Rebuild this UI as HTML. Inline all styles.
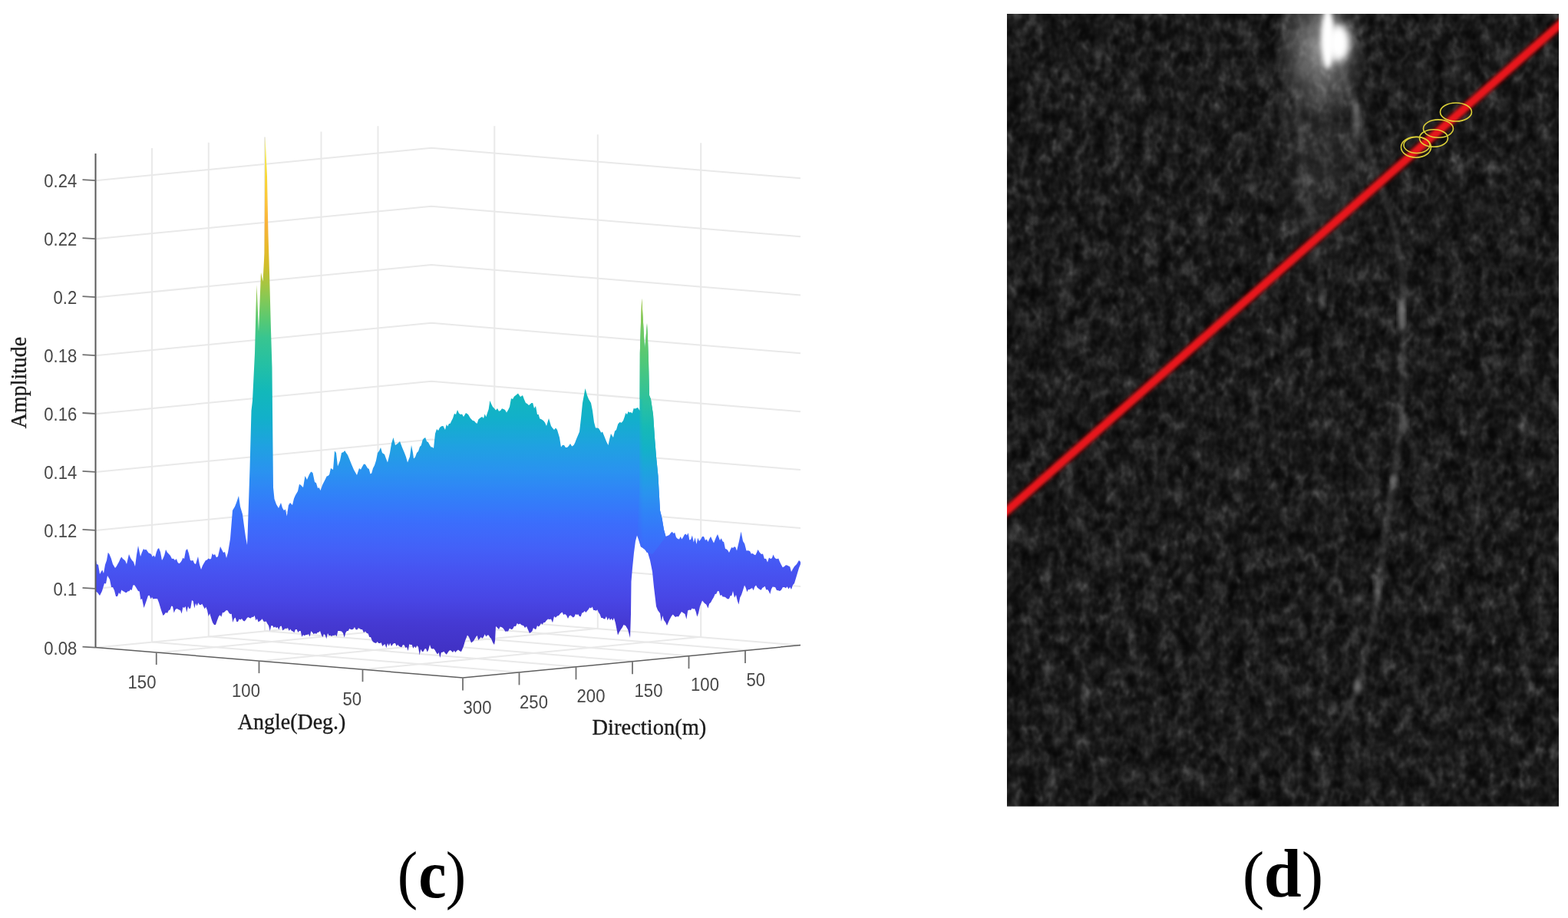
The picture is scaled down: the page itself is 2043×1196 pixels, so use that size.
<!DOCTYPE html>
<html><head><meta charset="utf-8"><title>Figure (c) (d)</title>
<style>
html,body{margin:0;padding:0;background:#fff;overflow:hidden;}
body{width:2043px;height:1196px;overflow:hidden;position:relative;}
svg{position:absolute;left:0;top:0;display:block;}
.tick text{font-family:"Liberation Sans",sans-serif;font-size:23.5px;fill:#474747;}
.ax text{font-family:"Liberation Serif",serif;font-size:29.3px;fill:#1c1c1c;stroke:#1c1c1c;stroke-width:0.35px;}
.cap text{font-family:"Liberation Serif",serif;font-size:88px;fill:#000;}
</style></head><body>
<svg width="2043" height="1196" viewBox="0 0 2043 1196">
<defs>
<linearGradient id="parc" gradientUnits="userSpaceOnUse" x1="0" y1="385" x2="0" y2="725"><stop offset="0.0000" stop-color="#b4c43a"/><stop offset="0.0588" stop-color="#96c74c"/><stop offset="0.1324" stop-color="#72c962"/><stop offset="0.2500" stop-color="#50c878"/><stop offset="0.4206" stop-color="#28c0a2"/><stop offset="0.5059" stop-color="#16b9b6"/><stop offset="0.5882" stop-color="#13b1c8"/><stop offset="0.6735" stop-color="#1ea3de"/><stop offset="0.7559" stop-color="#2994ee"/><stop offset="0.8382" stop-color="#3082f7"/><stop offset="0.9235" stop-color="#3872fb"/><stop offset="1.0000" stop-color="#3f66fa"/></linearGradient>
<linearGradient id="colfade" gradientUnits="userSpaceOnUse" x1="829" y1="0" x2="838" y2="0"><stop offset="0" stop-color="#fff" stop-opacity="0"/><stop offset="1" stop-color="#fff" stop-opacity="1"/></linearGradient>
<mask id="colmask" maskUnits="userSpaceOnUse" x="820" y="380" width="60" height="360"><rect x="820" y="380" width="60" height="140" fill="#fff"/><rect x="820" y="520" width="60" height="220" fill="url(#colfade)"/></mask>
<linearGradient id="par" gradientUnits="userSpaceOnUse" x1="0" y1="178" x2="0" y2="853"><stop offset="0.0000" stop-color="#f7ee3c"/><stop offset="0.0400" stop-color="#f5e53a"/><stop offset="0.0741" stop-color="#f8d833"/><stop offset="0.1274" stop-color="#fcc43c"/><stop offset="0.1689" stop-color="#f8b23a"/><stop offset="0.2133" stop-color="#e8b92a"/><stop offset="0.2489" stop-color="#d0bd2a"/><stop offset="0.2830" stop-color="#a8c540"/><stop offset="0.3170" stop-color="#80c958"/><stop offset="0.3526" stop-color="#58c972"/><stop offset="0.3881" stop-color="#38c590"/><stop offset="0.4400" stop-color="#24c0a4"/><stop offset="0.4919" stop-color="#12b8ba"/><stop offset="0.5437" stop-color="#12b0ca"/><stop offset="0.5956" stop-color="#1fa2e0"/><stop offset="0.6474" stop-color="#2a92f0"/><stop offset="0.6919" stop-color="#3181f8"/><stop offset="0.7422" stop-color="#3b6efc"/><stop offset="0.7926" stop-color="#4361f8"/><stop offset="0.8430" stop-color="#4752f0"/><stop offset="0.8963" stop-color="#4845e4"/><stop offset="0.9407" stop-color="#4539d2"/><stop offset="1.0000" stop-color="#4030c2"/></linearGradient>
<filter id="noise" x="0" y="0" width="100%" height="100%" color-interpolation-filters="sRGB">
<feTurbulence type="fractalNoise" baseFrequency="0.045 0.035" numOctaves="2" seed="3" result="n1"/>
<feTurbulence type="fractalNoise" baseFrequency="0.1 0.075" numOctaves="2" seed="8" result="n2"/>
<feComposite in="n1" in2="n2" operator="arithmetic" k1="0" k2="0.5" k3="0.5" k4="0"/>
<feColorMatrix type="matrix" values="1 0 0 0 0  1 0 0 0 0  1 0 0 0 0  0 0 0 0 1"/>
<feComponentTransfer><feFuncR type="gamma" amplitude="0.5" exponent="2.5" offset="0.02"/><feFuncG type="gamma" amplitude="0.5" exponent="2.5" offset="0.02"/><feFuncB type="gamma" amplitude="0.5" exponent="2.5" offset="0.02"/></feComponentTransfer>
</filter>
<filter id="b3" x="-50%" y="-50%" width="200%" height="200%"><feGaussianBlur stdDeviation="3"/></filter>
<filter id="b5" x="-50%" y="-50%" width="200%" height="200%"><feGaussianBlur stdDeviation="5"/></filter>
<filter id="b8" x="-50%" y="-50%" width="200%" height="200%"><feGaussianBlur stdDeviation="9"/></filter>
<filter id="b2" x="-50%" y="-50%" width="200%" height="200%"><feGaussianBlur stdDeviation="2.2"/></filter>
<filter id="b1" x="-50%" y="-50%" width="200%" height="200%"><feGaussianBlur stdDeviation="1.6"/></filter>
<radialGradient id="gl1"><stop offset="0" stop-color="#fff" stop-opacity="0.5"/><stop offset="0.5" stop-color="#fff" stop-opacity="0.22"/><stop offset="1" stop-color="#fff" stop-opacity="0"/></radialGradient>
<radialGradient id="gl2"><stop offset="0" stop-color="#fff" stop-opacity="0.10"/><stop offset="0.6" stop-color="#fff" stop-opacity="0.05"/><stop offset="1" stop-color="#fff" stop-opacity="0"/></radialGradient>
<clipPath id="sc"><rect x="1312" y="18" width="719" height="1032.5"/></clipPath>
</defs>
<rect width="2043" height="1196" fill="#fff"/>
<g fill="none" stroke="#e9e9e9" stroke-width="2"><path d="M124.5,235.3 L562,192.8 L1043,232.3"/><path d="M124.5,311.3 L562,268.8 L1043,308.3"/><path d="M124.5,387.40000000000003 L562,344.90000000000003 L1043,384.40000000000003"/><path d="M124.5,463.3 L562,420.8 L1043,460.3"/><path d="M124.5,539.1999999999999 L562,496.7 L1043,536.1999999999999"/><path d="M124.5,615.0999999999999 L562,572.5999999999999 L1043,612.0999999999999"/><path d="M124.5,691.0 L562,648.5 L1043,688.0"/><path d="M124.5,767.0 L562,724.5 L1043,764.0"/><path d="M124.5,843.8 L562,801.3 L1043,840.8"/><path d="M198,192.9 L198,836.4"/><path d="M271.75,185.7 L271.75,829.2"/><path d="M345,178.6 L345,822.1"/><path d="M418.5,171.4 L418.5,814.9"/><path d="M492.5,164.3 L492.5,807.8"/><path d="M644.3,164.3 L644.3,807.8"/><path d="M778.8,175.3 L778.8,818.8"/><path d="M913.2,186.3 L913.2,829.8"/><path d="M198.0,836.4 L676.9,875.9"/><path d="M271.8,829.2 L751.1,868.7"/><path d="M345.0,822.1 L824.8,861.6"/><path d="M418.5,814.9 L898.7,854.4"/><path d="M492.5,807.8 L973.1,847.3"/><path d="M644.3,807.8 L206.4,850.3"/><path d="M778.8,818.8 L340.2,861.3"/><path d="M913.2,829.8 L473.9,872.3"/></g>
<path d="M124.0,724.0 L126.0,735.0 L128.0,735.8 L130.0,748.0 L131.7,745.1 L133.3,742.5 L135.0,747.0 L137.0,735.7 L139.0,730.0 L140.8,719.7 L142.5,722.0 L144.8,727.6 L147.0,735.0 L150.0,740.0 L151.7,738.1 L153.3,735.1 L155.0,732.0 L156.7,728.1 L158.3,725.6 L160.0,728.0 L161.7,729.2 L163.3,730.8 L165.0,735.0 L168.0,722.0 L170.0,726.8 L172.0,730.0 L174.0,732.0 L176.0,738.0 L178.0,722.7 L180.0,711.0 L183.0,725.0 L185.0,719.6 L187.0,715.0 L188.7,716.5 L190.3,715.8 L192.0,718.0 L193.7,720.5 L195.3,721.1 L197.0,722.0 L198.7,725.6 L200.3,723.4 L202.0,726.0 L203.7,719.7 L205.3,715.6 L207.0,714.0 L209.0,719.2 L211.0,730.0 L212.7,726.9 L214.3,722.9 L216.0,716.0 L218.0,719.8 L220.0,721.8 L222.0,724.0 L224.0,728.0 L226.0,727.8 L228.0,730.0 L229.8,728.1 L231.5,732.4 L233.2,734.2 L235.0,733.0 L236.7,730.6 L238.3,726.8 L240.0,728.0 L242.0,717.3 L244.0,715.0 L246.0,721.1 L248.0,730.0 L249.8,730.6 L251.5,730.0 L253.2,734.0 L255.0,735.0 L258.0,725.0 L260.0,735.4 L262.0,742.0 L264.0,736.7 L266.0,733.2 L268.0,730.0 L269.8,729.5 L271.5,727.4 L273.2,728.4 L275.0,728.0 L276.7,720.9 L278.3,723.2 L280.0,722.0 L282.0,726.2 L284.0,725.0 L287.0,712.0 L289.0,716.1 L291.0,720.0 L293.0,719.0 L295.0,727.0 L297.0,720.0 L300.0,702.0 L303.0,665.0 L306.0,660.0 L308.0,655.0 L311.0,646.0 L313.0,660.0 L316.0,670.0 L318.0,685.0 L320.0,699.2 L322.0,710.0 L322.5,700.0 L325.5,610.0 L327.5,535.0 L329.0,522.0 L332.0,460.0 L333.5,400.0 L334.5,371.0 L337.0,432.0 L340.0,355.0 L342.5,367.0 L344.5,330.0 L345.5,178.0 L348.0,230.0 L349.5,305.0 L351.0,355.0 L353.0,430.0 L354.5,479.0 L355.0,535.0 L356.0,635.0 L357.5,650.0 L360.0,657.0 L363.0,662.0 L366.0,655.0 L368.0,661.8 L370.0,665.0 L371.9,663.6 L373.8,672.5 L375.9,658.3 L378.0,655.0 L381.0,658.0 L383.0,649.5 L385.0,645.0 L388.0,640.0 L390.0,630.7 L392.0,632.0 L395.0,635.0 L397.5,620.0 L400.0,625.0 L403.0,618.0 L405.2,614.6 L407.5,616.0 L410.0,628.0 L412.0,629.2 L414.0,636.0 L415.8,635.2 L417.5,639.0 L420.0,632.0 L422.0,628.0 L423.8,624.4 L425.7,620.4 L427.5,620.0 L429.2,618.0 L431.0,610.0 L434.0,612.0 L436.0,587.5 L438.0,590.0 L440.0,607.5 L443.0,600.0 L445.0,590.0 L447.5,589.0 L449.2,587.0 L451.0,590.0 L453.0,592.8 L455.0,597.5 L458.0,605.0 L461.0,612.0 L463.0,615.4 L465.0,619.0 L468.0,610.0 L470.0,611.7 L472.0,608.0 L474.0,604.4 L476.0,605.0 L479.0,610.0 L480.8,610.9 L482.5,617.5 L484.2,616.6 L486.0,610.0 L488.0,606.2 L490.0,600.0 L492.0,590.0 L494.0,587.5 L496.0,582.9 L498.0,590.0 L501.0,592.0 L503.0,597.4 L505.0,602.5 L508.0,590.0 L510.0,578.0 L512.5,570.0 L515.0,580.0 L518.0,578.0 L521.0,575.0 L524.0,583.0 L527.0,590.0 L529.0,595.2 L531.0,602.5 L534.0,595.0 L536.0,580.0 L538.0,590.0 L539.0,597.5 L541.0,595.6 L543.0,590.0 L545.0,588.1 L547.0,582.0 L548.8,580.2 L550.7,573.0 L552.5,571.0 L554.2,570.0 L556.0,575.0 L558.0,576.2 L560.0,580.0 L561.7,582.5 L563.3,582.4 L565.0,584.0 L567.0,565.0 L569.0,559.0 L571.0,560.9 L573.0,557.0 L575.2,555.2 L577.5,555.0 L580.0,560.0 L581.7,552.9 L583.3,555.4 L585.0,552.0 L586.7,551.7 L588.3,548.3 L590.0,545.0 L592.0,538.8 L594.0,540.1 L596.0,534.0 L598.0,538.5 L600.0,540.0 L602.0,539.6 L604.0,543.0 L607.0,538.0 L610.0,540.0 L613.0,545.0 L616.0,548.0 L618.0,548.5 L620.0,551.0 L621.7,551.8 L623.3,546.4 L625.0,545.0 L626.7,543.8 L628.3,542.9 L630.0,545.0 L631.7,539.2 L633.3,543.2 L635.0,538.0 L636.7,533.1 L638.3,521.9 L640.0,526.0 L642.0,529.9 L644.0,532.0 L646.0,534.6 L648.0,532.0 L650.0,535.7 L652.0,535.0 L654.0,532.3 L656.0,533.0 L658.0,534.0 L660.0,537.5 L662.0,534.3 L664.0,530.0 L666.0,518.9 L668.0,520.0 L670.0,516.6 L672.0,515.0 L675.0,512.5 L678.0,517.0 L681.0,515.0 L683.0,520.5 L685.0,525.0 L687.0,526.0 L689.0,528.0 L690.8,526.5 L692.5,525.0 L694.2,524.9 L696.0,532.0 L698.0,528.9 L700.0,540.0 L701.7,540.0 L703.3,545.4 L705.0,546.0 L708.0,548.0 L710.0,550.5 L712.0,555.0 L715.0,545.0 L718.0,555.0 L720.0,557.8 L722.0,560.0 L724.0,557.6 L726.0,560.0 L729.0,570.0 L731.0,582.5 L733.0,579.7 L735.0,580.0 L737.0,583.1 L739.0,583.0 L741.0,580.9 L743.0,578.0 L745.2,581.5 L747.5,580.0 L749.2,576.7 L751.0,572.0 L753.0,567.3 L755.0,562.5 L757.0,545.0 L759.0,525.0 L760.8,515.2 L762.5,506.0 L765.0,515.0 L767.0,520.0 L770.0,525.0 L772.0,535.0 L774.0,550.0 L776.0,557.5 L778.0,557.6 L780.0,558.0 L781.7,560.7 L783.3,563.7 L785.0,562.5 L788.0,570.0 L790.2,575.4 L792.5,580.0 L794.2,572.1 L796.0,565.0 L799.0,570.0 L801.0,561.7 L803.0,560.0 L805.2,552.4 L807.5,550.0 L809.8,550.7 L812.0,548.0 L813.7,543.3 L815.3,538.1 L817.0,540.0 L818.7,536.0 L820.3,537.4 L822.0,537.0 L823.8,538.4 L825.7,532.0 L827.5,532.5 L829.2,531.8 L831.0,531.0 L833.5,535.0 L833.8,460.0 L835.0,420.0 L836.2,388.8 L838.0,420.0 L840.0,455.0 L841.5,440.0 L843.0,421.0 L844.0,440.0 L845.0,470.0 L846.0,515.0 L848.0,520.0 L851.0,540.0 L853.0,570.0 L855.0,595.0 L857.5,620.0 L860.0,665.0 L862.5,675.0 L865.0,690.0 L867.5,699.0 L872.0,697.0 L873.8,694.5 L875.7,692.8 L877.5,695.0 L879.2,693.8 L881.0,700.0 L883.0,702.0 L885.0,702.5 L886.7,699.1 L888.3,702.6 L890.0,700.0 L891.7,696.8 L893.3,695.6 L895.0,697.5 L896.7,694.3 L898.3,703.6 L900.0,703.0 L901.9,697.4 L903.8,706.4 L905.6,700.3 L907.5,709.0 L909.2,700.8 L911.0,705.0 L913.0,702.8 L915.0,699.0 L917.0,699.0 L919.0,704.0 L920.8,702.4 L922.5,706.0 L924.2,702.2 L926.0,699.0 L928.0,703.6 L930.0,707.5 L933.0,700.0 L935.0,696.0 L938.0,704.0 L939.8,701.2 L941.5,705.3 L943.2,706.3 L945.0,715.0 L946.7,715.5 L948.3,717.1 L950.0,720.0 L951.7,716.1 L953.3,713.1 L955.0,714.0 L956.7,712.3 L958.3,712.7 L960.0,717.5 L963.0,705.0 L965.5,692.5 L968.0,705.0 L970.2,708.6 L972.5,717.5 L974.8,717.3 L977.0,718.0 L978.8,721.5 L980.7,721.0 L982.5,722.5 L984.2,723.2 L985.8,720.2 L987.5,716.0 L989.8,719.8 L992.0,722.0 L994.0,721.6 L996.0,728.0 L998.0,727.7 L1000.0,732.5 L1002.0,726.4 L1004.0,728.0 L1005.8,727.3 L1007.5,722.5 L1009.2,726.3 L1011.0,728.0 L1012.6,728.2 L1014.2,727.5 L1015.9,731.8 L1017.5,735.0 L1019.8,739.3 L1022.0,738.0 L1023.8,736.3 L1025.7,736.5 L1027.5,737.5 L1029.2,738.3 L1031.0,745.0 L1033.0,741.3 L1035.0,738.0 L1038.0,735.0 L1041.0,730.0 L1043.0,732.0 L1043.0,735.0 L1041.0,740.0 L1038.0,750.0 L1035.0,760.0 L1033.0,762.2 L1031.0,768.0 L1029.2,764.8 L1027.5,767.5 L1025.7,764.2 L1023.8,766.3 L1022.0,765.0 L1020.0,765.1 L1018.0,768.5 L1016.0,770.0 L1014.0,769.3 L1012.0,768.9 L1010.0,765.0 L1008.3,764.8 L1006.7,764.6 L1005.0,767.5 L1003.3,773.9 L1001.7,770.2 L1000.0,768.0 L998.3,768.4 L996.7,763.8 L995.0,765.0 L993.3,766.0 L991.7,768.8 L990.0,768.0 L988.3,766.7 L986.7,765.4 L985.0,762.5 L983.3,764.6 L981.7,769.3 L980.0,766.0 L978.3,767.0 L976.7,768.1 L975.0,768.0 L973.3,771.3 L971.7,765.8 L970.0,762.5 L968.0,769.0 L966.0,775.0 L964.2,778.6 L962.5,787.5 L960.8,782.8 L959.0,775.0 L957.0,778.8 L955.0,770.0 L953.3,776.2 L951.7,776.0 L950.0,780.0 L948.3,780.4 L946.7,779.4 L945.0,778.0 L943.3,777.5 L941.7,777.5 L940.0,775.0 L938.3,776.0 L936.7,770.3 L935.0,770.0 L933.3,773.8 L931.7,774.1 L930.0,778.0 L928.0,781.3 L926.0,785.0 L924.2,786.5 L922.5,792.5 L920.2,787.4 L918.0,786.0 L915.0,782.5 L912.0,790.0 L910.0,799.0 L908.3,803.5 L906.7,796.9 L905.0,793.0 L903.3,793.4 L901.7,792.6 L900.0,795.0 L898.1,794.5 L896.2,795.4 L894.4,806.7 L892.5,800.0 L890.2,798.6 L888.0,797.0 L886.0,800.2 L884.0,803.4 L882.0,803.0 L880.2,804.0 L878.5,802.5 L876.8,800.5 L875.0,802.5 L872.0,808.0 L869.0,815.0 L867.0,810.4 L865.0,808.0 L863.3,802.0 L861.7,809.7 L860.0,799.0 L857.0,795.0 L855.0,790.0 L852.0,765.0 L850.0,745.0 L847.0,730.0 L844.0,720.0 L842.3,719.6 L840.7,715.4 L839.0,715.0 L837.0,713.1 L835.0,712.5 L832.0,703.0 L830.0,697.5 L828.0,705.0 L826.0,720.0 L824.0,740.0 L822.5,757.5 L822.0,800.0 L821.0,831.0 L818.0,820.0 L815.0,815.0 L812.5,814.0 L810.8,817.5 L809.0,820.0 L807.0,823.3 L805.0,827.5 L802.0,812.0 L800.0,805.0 L798.3,808.6 L796.7,805.7 L795.0,808.0 L793.3,804.8 L791.7,808.2 L790.0,803.0 L788.3,806.4 L786.7,806.2 L785.0,805.0 L783.3,805.1 L781.7,800.6 L780.0,798.0 L778.3,794.3 L776.7,795.7 L775.0,795.0 L773.3,795.0 L771.7,790.6 L770.0,792.5 L768.3,791.4 L766.7,793.9 L765.0,796.0 L763.3,798.1 L761.7,795.9 L760.0,798.0 L758.3,798.5 L756.7,803.3 L755.0,803.0 L753.3,800.2 L751.7,801.0 L750.0,800.0 L748.3,803.4 L746.7,804.5 L745.0,803.0 L743.3,801.5 L741.7,802.5 L740.0,806.0 L738.0,801.6 L736.0,800.0 L734.2,801.1 L732.5,797.5 L730.2,799.2 L728.0,802.0 L726.0,802.5 L724.0,804.8 L722.0,803.0 L720.0,811.2 L718.0,806.4 L716.0,807.0 L714.0,806.6 L712.0,808.2 L710.0,811.0 L708.3,811.0 L706.7,813.8 L705.0,812.0 L703.3,815.0 L701.7,816.4 L700.0,815.0 L698.3,820.1 L696.7,819.6 L695.0,818.0 L693.3,822.5 L691.7,823.8 L690.0,825.0 L688.0,820.6 L686.0,816.0 L684.0,818.1 L682.0,815.0 L679.8,814.6 L677.5,812.5 L675.7,813.4 L673.8,812.1 L672.0,816.0 L670.0,815.7 L668.0,819.5 L666.0,820.0 L664.0,818.6 L662.0,822.5 L660.0,822.5 L658.3,822.8 L656.7,820.0 L655.0,818.0 L653.3,817.0 L651.7,816.4 L650.0,820.0 L648.0,817.8 L646.0,816.0 L645.0,835.0 L644.0,840.0 L642.0,836.9 L640.0,832.0 L638.3,830.4 L636.7,827.5 L635.0,827.5 L633.3,829.6 L631.7,826.3 L630.0,830.0 L628.3,831.7 L626.7,829.9 L625.0,832.0 L623.3,833.9 L621.7,827.9 L620.0,830.0 L617.0,835.0 L614.0,837.5 L611.0,830.0 L609.0,827.5 L606.0,835.0 L604.0,842.0 L601.0,849.0 L599.0,848.2 L597.0,846.5 L595.0,848.0 L593.3,850.1 L591.7,847.6 L590.0,850.0 L588.3,848.2 L586.7,847.1 L585.0,848.0 L583.3,850.6 L581.7,852.7 L580.0,851.0 L578.3,848.8 L576.7,849.8 L575.0,850.0 L573.3,857.1 L571.7,849.9 L570.0,852.5 L568.3,850.1 L566.7,846.9 L565.0,845.0 L563.3,845.6 L561.7,844.7 L560.0,840.0 L558.3,846.4 L556.7,849.5 L555.0,845.0 L553.3,845.6 L551.7,848.7 L550.0,849.0 L548.3,845.7 L546.7,853.6 L545.0,843.0 L543.3,840.9 L541.7,844.3 L540.0,842.0 L538.3,844.8 L536.7,839.9 L535.0,840.0 L533.3,839.2 L531.7,848.0 L530.0,843.0 L528.3,843.9 L526.7,840.5 L525.0,840.0 L523.3,843.2 L521.7,842.8 L520.0,842.0 L518.3,839.7 L516.7,842.1 L515.0,838.0 L513.3,837.9 L511.7,839.6 L510.0,842.0 L508.3,837.7 L506.7,841.8 L505.0,838.0 L503.3,844.3 L501.7,839.2 L500.0,840.0 L498.3,842.1 L496.7,837.2 L495.0,838.0 L493.3,838.0 L491.7,836.1 L490.0,838.0 L487.0,837.0 L485.0,834.9 L483.0,830.0 L481.3,830.0 L479.7,825.6 L478.0,825.0 L476.0,822.5 L474.0,824.2 L472.0,820.0 L470.3,820.0 L468.7,819.0 L467.0,818.0 L465.3,820.5 L463.7,820.3 L462.0,817.0 L460.3,819.5 L458.7,820.3 L457.0,820.0 L455.3,819.1 L453.7,822.1 L452.0,822.0 L450.3,824.5 L448.7,830.4 L447.0,825.0 L445.3,822.8 L443.7,822.2 L442.0,822.0 L440.3,821.9 L438.7,829.3 L437.0,827.0 L435.3,828.1 L433.7,827.7 L432.0,829.0 L430.3,827.7 L428.7,828.2 L427.0,825.0 L425.3,832.2 L423.7,827.6 L422.0,826.0 L420.3,830.3 L418.7,826.9 L417.0,822.0 L415.3,823.8 L413.7,823.9 L412.0,826.0 L410.3,825.0 L408.7,826.3 L407.0,824.0 L405.3,822.3 L403.7,829.5 L402.0,826.0 L400.2,827.1 L398.5,827.1 L396.8,828.3 L395.0,827.0 L393.3,829.7 L391.7,821.9 L390.0,822.0 L388.3,824.0 L386.7,820.0 L385.0,820.0 L383.3,824.2 L381.7,822.5 L380.0,822.0 L378.3,819.4 L376.7,822.1 L375.0,818.0 L373.3,819.1 L371.7,818.8 L370.0,820.0 L368.3,821.6 L366.7,815.5 L365.0,816.0 L363.3,820.5 L361.7,816.9 L360.0,818.0 L358.3,816.4 L356.7,817.8 L355.0,815.0 L353.3,815.3 L351.7,821.9 L350.0,815.0 L348.3,812.6 L346.7,809.5 L345.0,810.0 L343.3,809.5 L341.7,806.3 L340.0,808.0 L338.3,809.2 L336.7,810.6 L335.0,806.0 L333.3,808.2 L331.7,802.0 L330.0,804.0 L328.3,803.7 L326.7,805.4 L325.0,805.0 L323.3,804.0 L321.7,805.3 L320.0,808.0 L318.3,809.4 L316.7,808.4 L315.0,806.0 L313.3,807.4 L311.7,806.4 L310.0,810.0 L308.3,810.0 L306.7,804.6 L305.0,806.0 L303.3,810.9 L301.7,799.7 L300.0,800.0 L298.3,798.6 L296.7,795.5 L295.0,795.0 L293.3,796.5 L291.7,798.0 L290.0,798.0 L288.3,803.8 L286.7,801.3 L285.0,803.0 L283.0,808.2 L281.0,814.0 L279.0,814.0 L277.0,810.9 L275.0,805.0 L273.3,799.2 L271.7,802.9 L270.0,795.0 L268.3,790.8 L266.7,793.3 L265.0,790.0 L263.3,786.7 L261.7,787.9 L260.0,788.0 L258.3,785.2 L256.7,789.6 L255.0,786.0 L253.3,792.5 L251.7,783.3 L250.0,782.0 L248.3,792.3 L246.7,793.3 L245.0,790.0 L243.3,797.8 L241.7,790.0 L240.0,792.0 L238.3,790.9 L236.7,799.6 L235.0,795.0 L233.3,794.4 L231.7,793.5 L230.0,793.0 L228.3,794.6 L226.7,798.5 L225.0,790.0 L223.3,789.4 L221.7,794.2 L220.0,795.0 L218.0,798.7 L216.0,798.0 L214.2,800.5 L212.5,802.0 L210.0,795.0 L207.0,785.0 L205.0,780.1 L203.0,780.0 L201.3,780.1 L199.7,780.5 L198.0,778.0 L196.3,780.3 L194.7,775.8 L193.0,776.0 L190.0,785.0 L187.5,792.0 L185.0,780.0 L183.3,781.3 L181.7,770.6 L180.0,770.0 L177.0,765.0 L175.0,762.0 L173.3,762.5 L171.7,768.9 L170.0,768.0 L168.3,770.3 L166.7,770.3 L165.0,772.0 L163.3,772.0 L161.7,770.7 L160.0,770.0 L158.3,768.5 L156.7,774.3 L155.0,772.0 L153.0,777.1 L151.0,777.0 L149.0,769.3 L147.0,765.0 L145.0,765.0 L143.0,755.0 L140.0,750.0 L138.0,760.6 L136.0,760.0 L133.0,770.0 L130.0,776.0 L127.0,772.0 L124.0,770.0Z" fill="url(#par)"/>
<path d="M833.8,460.0 L835.0,420.0 L836.2,388.8 L838.0,420.0 L840.0,455.0 L841.5,440.0 L843.0,421.0 L844.0,440.0 L845.0,470.0 L846.0,515.0 L848.0,520.0 L851.0,540.0 L853.0,570.0 L855.0,595.0 L857.5,620.0 L860.0,665.0 L862.5,675.0 L865.0,690.0 L867.5,699.0 L858.0,712.0 L850.0,722.0 L844.0,720.0 L839.0,715.0 L835.0,712.5 L832.0,703.0 L830.0,697.5 L831.0,680.0 L833.0,640.0 L833.5,535.0Z" fill="url(#parc)" mask="url(#colmask)"/>
<g fill="none" stroke="#5a5a5a" stroke-width="2"><path d="M124.5,200 L124.5,844.0"/></g>
<g fill="none" stroke="#5e5e5e" stroke-width="1.5"><path d="M124.5,843.5 L603,883 L1043,840.5"/></g>
<g fill="none" stroke="#707070" stroke-width="1.8"><path d="M124.5,235.1 L107.5,234.1"/><path d="M124.5,311.1 L107.5,310.1"/><path d="M124.5,387.20000000000005 L107.5,386.20000000000005"/><path d="M124.5,463.1 L107.5,462.1"/><path d="M124.5,539.0 L107.5,538.0"/><path d="M124.5,614.9 L107.5,613.9"/><path d="M124.5,690.8000000000001 L107.5,689.8000000000001"/><path d="M124.5,766.8000000000001 L107.5,765.8000000000001"/><path d="M124.5,843.6 L107.5,842.6"/><path d="M203.75,850.5 L203.75,866.0"/><path d="M337.5,861.6 L337.5,877.1"/><path d="M472.5,872.7 L472.5,888.2"/><path d="M603,883.5 L603,899.5"/><path d="M676.5,876.4 L676.5,892.4"/><path d="M750.5,869.3 L750.5,885.3"/><path d="M824,862.2 L824,878.2"/><path d="M897.5,855.1 L897.5,871.1"/><path d="M971,848.0 L971,864.0"/></g>
<g class="tick"><text transform="translate(100.2,244.0) scale(0.94,1)" text-anchor="end">0.24</text><text transform="translate(100.2,320.0) scale(0.94,1)" text-anchor="end">0.22</text><text transform="translate(100.2,396.1) scale(0.94,1)" text-anchor="end">0.2</text><text transform="translate(100.2,472.0) scale(0.94,1)" text-anchor="end">0.18</text><text transform="translate(100.2,547.9) scale(0.94,1)" text-anchor="end">0.16</text><text transform="translate(100.2,623.8) scale(0.94,1)" text-anchor="end">0.14</text><text transform="translate(100.2,699.7) scale(0.94,1)" text-anchor="end">0.12</text><text transform="translate(100.2,775.7) scale(0.94,1)" text-anchor="end">0.1</text><text transform="translate(100.2,852.5) scale(0.94,1)" text-anchor="end">0.08</text><text transform="translate(185,896.6) scale(0.94,1)" text-anchor="middle">150</text><text transform="translate(320.5,907.6) scale(0.94,1)" text-anchor="middle">100</text><text transform="translate(458.8,919.1) scale(0.94,1)" text-anchor="middle">50</text><text transform="translate(622,930.3) scale(0.94,1)" text-anchor="middle">300</text><text transform="translate(695.5,922.6) scale(0.94,1)" text-anchor="middle">250</text><text transform="translate(770,915.3) scale(0.94,1)" text-anchor="middle">200</text><text transform="translate(845,907.6) scale(0.94,1)" text-anchor="middle">150</text><text transform="translate(918.5,900.3) scale(0.94,1)" text-anchor="middle">100</text><text transform="translate(984.8,893.6) scale(0.94,1)" text-anchor="middle">50</text></g>
<g class="ax">
<text transform="translate(34,498.5) rotate(-90) scale(0.952,1)" text-anchor="middle">Amplitude</text>
<text transform="translate(380.1,949.6) scale(0.955,1)" text-anchor="middle">Angle(Deg.)</text>
<text transform="translate(845.9,957.2) scale(0.974,1)" text-anchor="middle">Direction(m)</text>
</g>
<g class="cap" text-anchor="middle">
<text transform="translate(563.5,1168.3) scale(0.93,1)"><tspan x="-35.05" style="font-size:85.5px">(</tspan><tspan x="0" dy="0.2" style="font-weight:bold">c</tspan><tspan x="32.90" dy="-0.2" style="font-size:85.5px">)</tspan></text>
<text transform="translate(1671.3,1168.3)"><tspan x="-38.30" style="font-size:85.5px">(</tspan><tspan x="0" dy="-0.3" style="font-weight:bold">d</tspan><tspan x="38.70" dy="0.3" style="font-size:85.5px">)</tspan></text>
</g>
<g clip-path="url(#sc)">
<rect x="1312" y="18" width="719" height="1032.5" fill="#1c1c1c"/>
<rect x="1312" y="18" width="719" height="1032.5" filter="url(#noise)"/>
<g id="feat">
<ellipse cx="1722" cy="180" rx="75" ry="190" fill="url(#gl2)"/>
<ellipse cx="1720" cy="62" rx="62" ry="95" fill="url(#gl1)"/>
<ellipse cx="1730" cy="50" rx="9" ry="40" fill="#fff" filter="url(#b3)"/>
<ellipse cx="1744" cy="56" rx="15" ry="24" fill="#fff" filter="url(#b5)"/>
<path d="M1742,72 C1760,120 1778,180 1809,271 C1822,310 1830,361 1829,415 C1828,470 1828,500 1825,542 C1822,580 1818,610 1814,632 C1808,680 1800,730 1796,768 C1790,810 1778,860 1769,894 C1760,920 1745,940 1733,958" fill="none" stroke="#e6e6e6" stroke-width="5" stroke-linecap="round" opacity="0.2" filter="url(#b3)"/>
<path d="M1688,117 C1694,170 1700,220 1706,260 C1712,300 1718,350 1723,398" fill="none" stroke="#e6e6e6" stroke-width="5" stroke-linecap="round" opacity="0.13" filter="url(#b3)"/>
<ellipse cx="1767" cy="158" rx="4" ry="24" fill="#ddd" opacity="0.3" filter="url(#b3)"/>
<ellipse cx="1723" cy="390" rx="3" ry="14" fill="#ddd" opacity="0.25" filter="url(#b3)"/>
<ellipse cx="1826" cy="410" rx="3.5" ry="22" fill="#eee" opacity="0.5" filter="url(#b3)"/>
<ellipse cx="1830" cy="552" rx="3.5" ry="12" fill="#eee" opacity="0.35" filter="url(#b3)"/>
<ellipse cx="1817" cy="626" rx="3.5" ry="9" fill="#eee" opacity="0.35" filter="url(#b3)"/>
<ellipse cx="1795" cy="765" rx="3.5" ry="14" fill="#eee" opacity="0.25" filter="url(#b3)"/>
<ellipse cx="1769" cy="894" rx="5" ry="8" fill="#eee" opacity="0.4" filter="url(#b3)"/>
<ellipse cx="1738" cy="922" rx="4" ry="8" fill="#eee" opacity="0.25" filter="url(#b3)"/>
</g>
<line x1="1302" y1="674.1" x2="2041" y2="24.4" stroke="#8a0a10" stroke-width="13" opacity="0.9" filter="url(#b2)"/>
<line x1="1302" y1="674.1" x2="2041" y2="24.4" stroke="#e8161f" stroke-width="8.6" filter="url(#b1)"/>
<g fill="none" stroke="#e6da3a" stroke-width="1.6" opacity="0.95">
<ellipse cx="1897" cy="146" rx="20.5" ry="12"/>
<ellipse cx="1874" cy="167.6" rx="19.5" ry="11.7"/>
<ellipse cx="1868" cy="180" rx="18.5" ry="11.3"/>
<ellipse cx="1845" cy="191.7" rx="19.5" ry="13.5"/>
<ellipse cx="1846" cy="189" rx="17" ry="10.5"/>
</g>
</g>
</svg>
</body></html>
